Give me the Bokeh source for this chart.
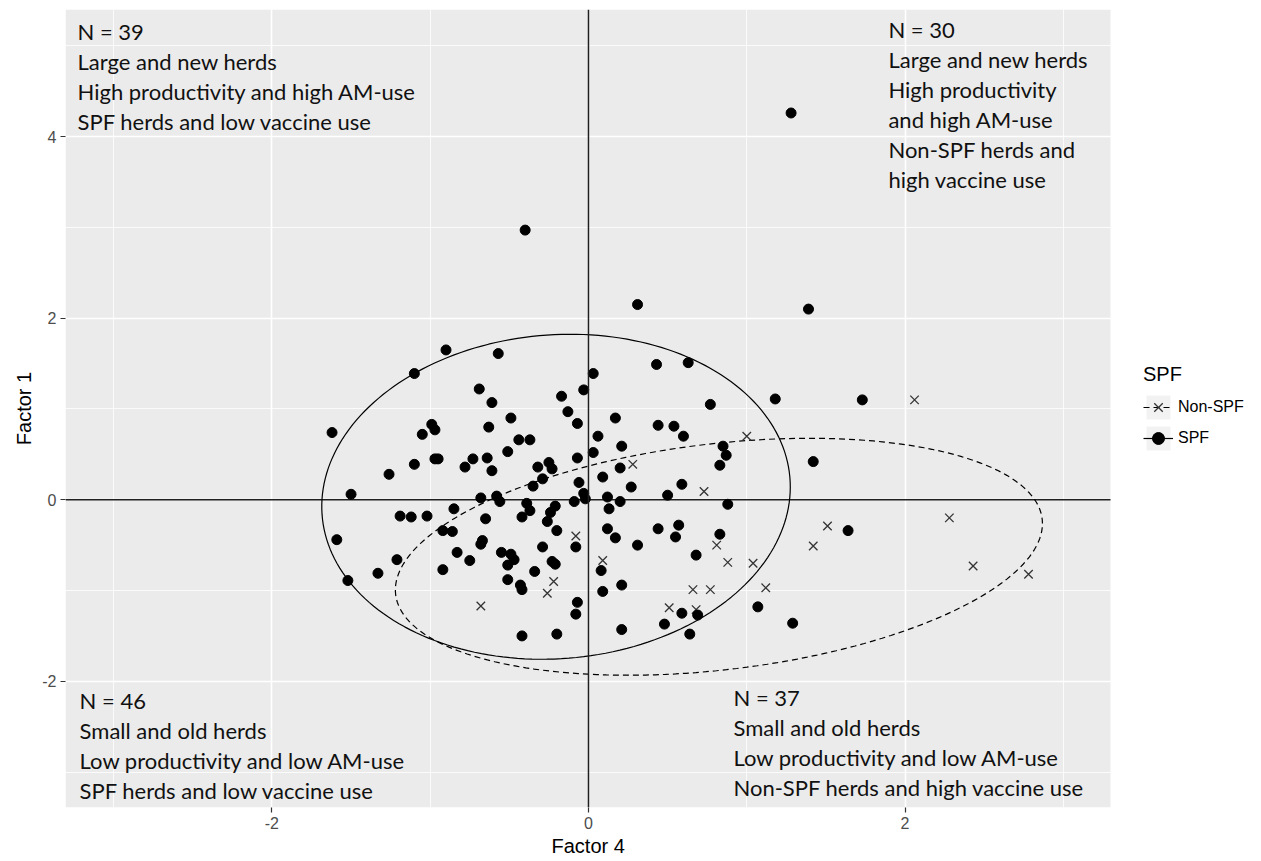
import numpy as np
from bokeh.plotting import figure
from bokeh.models import (BoxAnnotation, ColumnDataSource, FixedTicker, Legend,
                          LegendItem, Range1d, Span, Title)
from bokeh.core.properties import value
from bokeh.embed import file_html
from bokeh.resources import INLINE

# Herd scores on Factor 4 (x) and Factor 1 (y)
spf_x = [-0.90, -0.57, -1.10, -0.69, -0.61, -0.17, -0.13, -0.49, -0.07, -1.62,
         -0.99, -0.97, -1.05, -0.63, -0.44, -0.37, -0.51, -1.10, -0.97, -0.95,
         -0.73, -0.64, -0.78, -0.61, -0.32, -0.25, -0.23, -0.07, -1.26, -0.29,
         -0.35, -0.06, -1.50, -0.68, -0.58, -0.56, -0.39, -0.37, -0.09, -0.21,
         -0.24, -0.85, -1.19, -1.12, -1.02, -0.65, -0.42, -0.26, -0.20, -0.92,
         -0.86, -1.59, -0.67, -0.68, -0.29, -0.08, -0.83, -0.55, -0.49, -0.47,
         -0.51, -0.75, -0.23, -0.21, -1.21, -1.33, -0.92, -0.34, -0.51, -1.52,
         -0.43, -0.42, -0.07, -0.08, -0.42, -0.20,
         0.43, 0.63, 0.03, -0.03, 0.77, 1.18, 1.73, 0.17, 0.44, 0.54,
         0.60, 0.06, 0.21, 0.03, 0.85, 0.87, 0.83, 0.20, 0.09, 0.27,
         0.59, 0.50, 0.12, -0.03, -0.02, 0.20, 0.88, 0.13, 0.12, 0.17,
         0.44, 0.57, 0.55, 0.83, 0.31, 0.68, 0.08, 0.21, 0.09, 0.21,
         0.48, 0.59, 0.69, 0.64, 1.07, 1.29, 1.42, 1.64, 1.28, -0.40,
         0.31, 1.39]
spf_y = [1.65, 1.61, 1.39, 1.22, 1.07, 1.14, 0.97, 0.90, 0.84, 0.74,
         0.83, 0.77, 0.72, 0.80, 0.66, 0.66, 0.53, 0.39, 0.45, 0.45,
         0.45, 0.46, 0.36, 0.32, 0.36, 0.41, 0.34, 0.46, 0.28, 0.23,
         0.15, 0.19, 0.06, 0.02, 0.04, -0.02, -0.04, -0.12, -0.02, -0.07,
         -0.14, -0.10, -0.18, -0.19, -0.18, -0.21, -0.19, -0.24, -0.34, -0.34,
         -0.35, -0.44, -0.45, -0.49, -0.52, -0.52, -0.58, -0.58, -0.60, -0.66,
         -0.72, -0.67, -0.68, -0.71, -0.66, -0.81, -0.77, -0.79, -0.88, -0.89,
         -0.94, -0.99, -1.13, -1.26, -1.50, -1.48,
         1.49, 1.51, 1.39, 1.21, 1.05, 1.11, 1.10, 0.90, 0.82, 0.81,
         0.70, 0.70, 0.59, 0.52, 0.59, 0.49, 0.38, 0.35, 0.25, 0.14,
         0.17, 0.05, 0.03, 0.07, 0.01, -0.02, -0.05, -0.10, -0.32, -0.42,
         -0.32, -0.28, -0.41, -0.38, -0.50, -0.61, -0.78, -0.94, -1.01, -1.43,
         -1.37, -1.25, -1.27, -1.48, -1.18, -1.36, 0.42, -0.34, 4.26, 2.97,
         2.15, 2.10]

non_x = [-0.68, -0.22, -0.26, -0.08, 0.28, 1.00, 0.73, 0.81, 0.88, 1.04,
         0.09, 0.66, 0.77, 1.12, 0.51, 0.68, 1.42, 1.51, 2.06, 2.28,
         2.43, 2.78]
non_y = [-1.17, -0.90, -1.03, -0.40, 0.39, 0.70, 0.09, -0.50, -0.69, -0.70,
         -0.67, -0.99, -0.99, -0.97, -1.19, -1.21, -0.51, -0.29, 1.10, -0.20,
         -0.73, -0.82]

# Ellipse summaries per group: centre, half-extents, correlation
ell_spf = dict(cx=-0.205, cy=0.033, sx=1.48, sy=1.79, rho=0.06)
ell_non = dict(cx=0.824, cy=-0.628, sx=2.044, sy=1.305, rho=0.28)

# panel limits
x_lo, x_hi = -3.304, 3.298
y_lo, y_hi = -3.39, 5.40

x_ticks = [-2, 0, 2]
x_minor = [-3, -1, 1, 3]
y_ticks = [-2, 0, 2, 4]
y_minor = [-3, -1, 1, 3, 5]

quad_lines = [
    ["N = 39", "Large and new herds", "High productivity and high AM-use",
     "SPF herds and low vaccine use"],
    ["N = 30", "Large and new herds", "High productivity", "and high AM-use",
     "Non-SPF herds and", "high vaccine use"],
    ["N = 46", "Small and old herds", "Low productivity and low AM-use",
     "SPF herds and low vaccine use"],
    ["N = 37", "Small and old herds", "Low productivity and low AM-use",
     "Non-SPF herds and high vaccine use"],
]
quad_x = [-3.228, 1.895, -3.215, 0.916]
quad_y = [4.664, 4.350, -2.704, -2.671]


def ellipse_path(cx, cy, sx, sy, rho, n=200):
    t = np.linspace(0, 2 * np.pi, n)
    x = cx + sx * np.cos(t)
    y = cy + sy * (rho * np.cos(t) + np.sqrt(1 - rho ** 2) * np.sin(t))
    return x, y


AX_FONT = "Liberation Sans"
W, H = 1261, 861
LEFT, TOP, BOTTOM = 65, 9, 54
PANEL_W = 1045  # grey panel width in px; the frame continues to the right edge
frame_w = W - LEFT
x_end = x_lo + (x_hi - x_lo) * frame_w / PANEL_W

p = figure(width=W, height=H, output_backend="svg", toolbar_location=None,
           x_range=Range1d(x_lo, x_end), y_range=Range1d(y_lo, y_hi),
           min_border_left=LEFT, min_border_right=0, min_border_top=TOP,
           min_border_bottom=BOTTOM)

p.background_fill_color = "white"
p.border_fill_color = "white"
p.outline_line_color = None

# grey plotting panel, below the grid
p.add_layout(BoxAnnotation(left=x_lo, right=x_hi, bottom=y_lo, top=y_hi,
                           fill_color="#EBEBEB", fill_alpha=1, line_color=None,
                           level="image"))

for ax, ticks, minor in ((p.xaxis, x_ticks, x_minor), (p.yaxis, y_ticks, y_minor)):
    ax.ticker = FixedTicker(ticks=ticks, minor_ticks=minor)
    ax.major_label_overrides = {t: str(t) for t in ticks}
    ax.axis_line_color = None
    ax.major_tick_line_color = "#333333"
    ax.major_tick_line_width = 1.2
    ax.major_tick_out = 5
    ax.major_tick_in = 0
    ax.minor_tick_line_color = None
    ax.major_label_text_font = AX_FONT
    ax.major_label_text_font_size = "16px"
    ax.major_label_text_color = "#4D4D4D"
    ax.axis_label_text_font = AX_FONT
    ax.axis_label_text_font_size = "20px"
    ax.axis_label_text_font_style = "normal"
    ax.axis_label_text_color = "black"

p.yaxis.axis_label = "Factor 1"
p.xaxis.major_label_standoff = 4
p.yaxis.major_label_standoff = 4
p.yaxis.axis_label_standoff = 4
p.yaxis.major_label_orientation = "horizontal"

# x title, centred under the grey panel
p.add_layout(Title(text="Factor 4", align="left", offset=486,
                   text_font=AX_FONT, text_font_size="20px",
                   text_font_style="normal", text_color="black", standoff=2),
             "below")

for g in (p.xgrid, p.ygrid):
    g.grid_line_color = "white"
    g.grid_line_width = 1.6
    g.minor_grid_line_color = "white"
    g.minor_grid_line_width = 0.8

# quadrant dividers
p.add_layout(Span(location=0, dimension="height", line_color="#1f1f1f", line_width=1.5))
p.segment(x0=[x_lo], y0=[0], x1=[x_hi], y1=[0], line_color="#1f1f1f", line_width=1.5)

# legend key background (kept outside the visible ranges)
key_bg = p.rect(x=[50], y=[50], width=1, height=1, fill_color="#F2F2F2",
                line_color=None)

ex, ey = ellipse_path(**ell_non)
r_ell_non = p.line(ex, ey, line_color="black", line_width=1.2, line_dash="6 4")
ex, ey = ellipse_path(**ell_spf)
r_ell_spf = p.line(ex, ey, line_color="black", line_width=1.2)

r_non = p.scatter(non_x, non_y, marker="x", size=12, line_color="#333333",
                  line_width=1.3)
r_spf = p.scatter(spf_x, spf_y, marker="circle", size=10, fill_color="black",
                  line_color="black")

txt_src = ColumnDataSource(dict(x=quad_x, y=quad_y,
                                text=["\n".join(lines) for lines in quad_lines]))
p.text(x="x", y="y", text="text", source=txt_src, text_font=value("Lato"),
       text_font_size="22px", text_color="#111111", text_align="left",
       text_baseline="middle", text_line_height=1.11)

legend = Legend(
    items=[LegendItem(label="Non-SPF", renderers=[key_bg, r_ell_non, r_non]),
           LegendItem(label="SPF", renderers=[key_bg, r_ell_spf, r_spf])],
    location=(1078, 354), title="SPF",
    title_text_font=AX_FONT, title_text_font_size="20px",
    title_text_font_style="normal", title_text_color="black", title_standoff=6,
    label_text_font=AX_FONT, label_text_font_size="16px",
    label_text_color="black",
    glyph_width=30, glyph_height=30, label_height=30, label_standoff=5,
    spacing=1, padding=0, margin=0, border_line_color=None,
    background_fill_alpha=0)
p.add_layout(legend, "center")

open("out.html", "w").write(file_html(p, INLINE))
